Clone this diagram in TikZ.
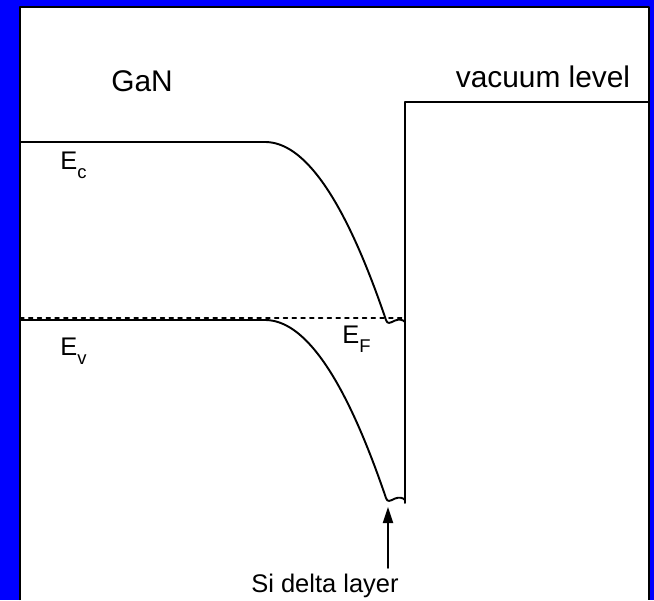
\documentclass[tikz,border=0pt]{standalone}
\usepackage{fontspec}
\setmainfont{Liberation Sans}
\usetikzlibrary{arrows.meta}
\definecolor{frameblue}{RGB}{0,0,255}
\newcommand{\enlev}[1]{E\raisebox{-0.39em}{\fontsize{10.5}{12}\selectfont #1}}

\begin{document}
\begin{tikzpicture}[>={Triangle[length=3.2mm,width=2mm]},x=0.02cm,y=-0.02cm,line join=round,line cap=round,
		band/.style={line width=1.1pt},
		big/.style={font=\fontsize{17}{20}\selectfont,inner sep=0pt},
		lab/.style={font=\fontsize{14.5}{17}\selectfont,inner sep=0pt}]
	\useasboundingbox[fill=frameblue] (0,0) rectangle (654,600);
	\fill[white] (20,7) rectangle (649,600);
	\draw[line width=1.5pt,line cap=butt] (20,600) -- (20,7) -- (649,7) -- (649,600);
	% Fermi level
	\draw[dash pattern=on 2.2pt off 2.8pt,line width=0.9pt] (20,318) -- (405,318);
	% conduction and valence band
	\foreach \lev in {142,320}
	\draw[band] (20,\lev) -- (265,\lev) -- plot[domain=265:386,samples=80] (\x,{\lev+1.216*((\x-265)/10)^2})
		.. controls (387.5,\lev+182.5) and (390,\lev+181) .. (395,\lev+178.5)
		.. controls (399,\lev+177) and (403,\lev+177.5) .. (405,\lev+180);
	% interface and vacuum level
	\draw[band] (405,503) -- (405,102) -- (649,102);
	\node[big,anchor=base] (gan) at (142,91) {GaN};
	\node[big,anchor=base] (vac) at (543,87) {vacuum level};
	\node[lab,anchor=base west] (ec) at (60,169) {\enlev{c}};
	\node[lab,anchor=base west] (ev) at (60,355) {\enlev{v}};
	\node[lab,anchor=base west] (ef) at (342,343) {\enlev{F}};
	\node[lab,anchor=base,inner ysep=3pt] (si) at (325,592) {Si delta layer};
	\coordinate (delta) at (388,507);
	\draw[->,line width=1.1pt] (si.north -| delta) -- (delta);
\end{tikzpicture}
\end{document}
